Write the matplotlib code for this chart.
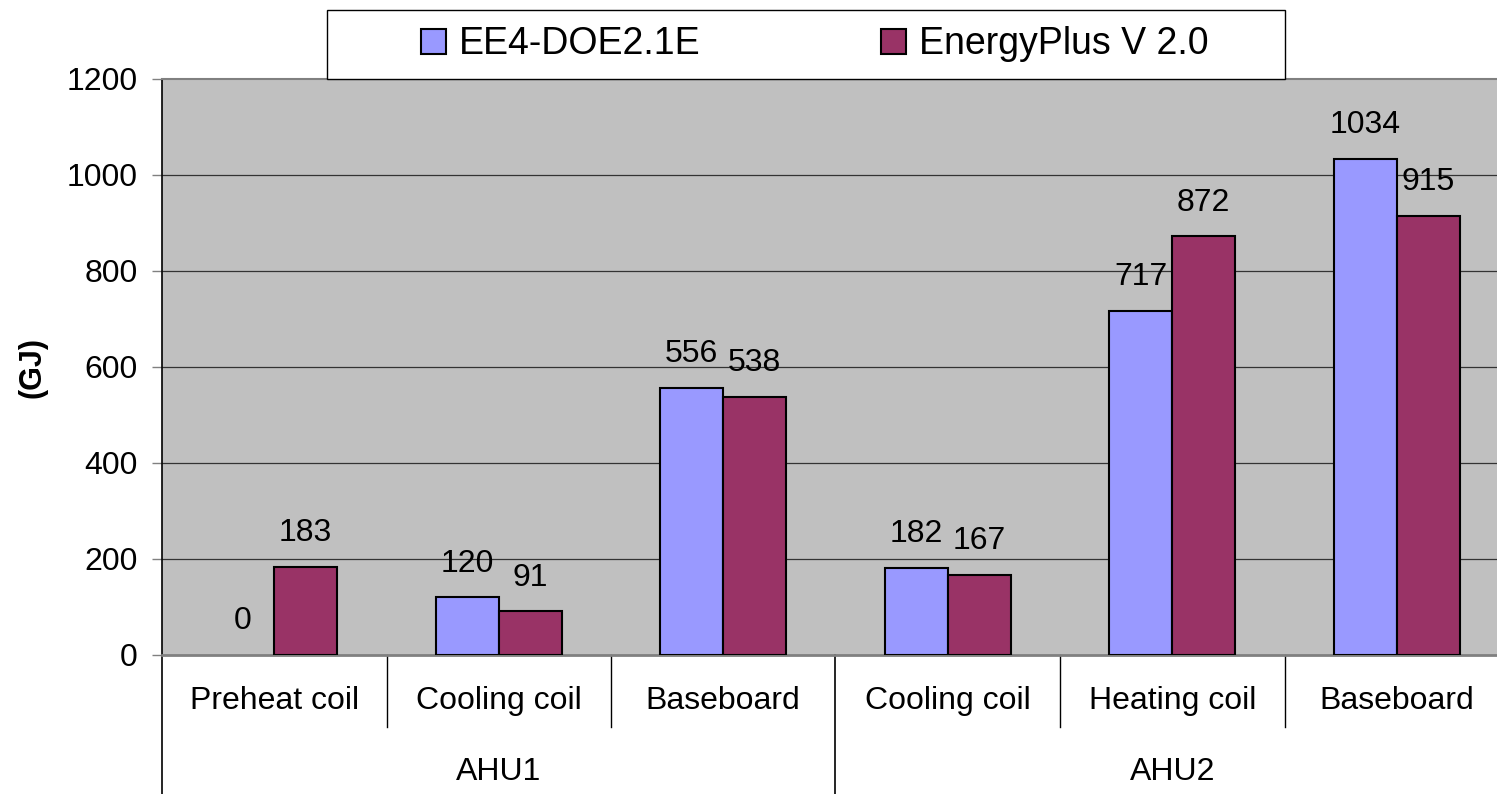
import matplotlib.pyplot as plt
from matplotlib.patches import Rectangle
import numpy as np

plt.rcParams['font.family'] = ['Liberation Sans', 'DejaVu Sans']

# Данные
categories = ['Preheat coil', 'Cooling coil', 'Baseboard',
              'Cooling coil', 'Heating coil', 'Baseboard']
groups = ['AHU1', 'AHU2']
series_names = ['EE4-DOE2.1E', 'EnergyPlus V 2.0']
ee4_values = [0, 120, 556, 182, 717, 1034]
eplus_values = [183, 91, 538, 167, 872, 915]
y_ticks = [0, 200, 400, 600, 800, 1000, 1200]

W, H = 1497, 794
fig = plt.figure(figsize=(W / 100, H / 100), dpi=100)
ax = fig.add_axes([162 / W, (H - 655) / H, (W - 162) / W, 576 / H])
ax.set_facecolor('#C0C0C0')

x = np.arange(len(categories))
bw = 0.28
colors = ['#9999FF', '#993366']
for i, vals in enumerate([ee4_values, eplus_values]):
    pos = x + (i - 0.5) * bw
    bars = ax.bar(pos, vals, width=bw, color=colors[i], edgecolor='black',
                  linewidth=1.5, label=series_names[i], zorder=3)
    # нулевые столбцы в оригинале не видны
    for b, v in zip(bars, vals):
        if v == 0:
            b.set_visible(False)
    for p, v in zip(pos, vals):
        ax.annotate(str(v), (p, v), xytext=(0, 18.5), textcoords='offset points',
                    ha='center', va='baseline', fontsize=23, zorder=4)

ax.set_xlim(-0.5, -0.5 + 1335 / 224.5)
ax.set_ylim(0, 1200)
ax.set_yticks(y_ticks)
ax.tick_params(axis='y', direction='out', length=7, width=1, color='#808080',
               pad=10.5, labelsize=23)
ax.set_xticks([])
for v in y_ticks[1:-1]:
    ax.axhline(v, color='#333333', linewidth=0.9, zorder=1)

ax.spines['right'].set_visible(False)
ax.spines['top'].set_color('#808080')
ax.spines['top'].set_linewidth(1.5)
ax.spines['bottom'].set_color('#808080')
ax.spines['bottom'].set_linewidth(2)
ax.spines['left'].set_color('black')
ax.spines['left'].set_linewidth(1.2)

ax.set_ylabel('(GJ)', fontsize=22, fontweight='bold')
ax.yaxis.set_label_coords(-0.0854, 0.5)

# Подписи категорий и групп
trans = ax.get_xaxis_transform()
for xi, name in zip(x, categories):
    ax.text(xi, -0.08, name, transform=trans, ha='center', va='center', fontsize=23)
for gi, g in enumerate(groups):
    ax.text(gi * 3 + 1, -0.203, g, transform=trans, ha='center', va='center', fontsize=23)

for d in [0.5, 1.5, 3.5, 4.5]:
    ax.plot([d, d], [0, -0.125], transform=trans, color='black', linewidth=1, clip_on=False)
for d in [-0.5, 2.5]:
    ax.plot([d, d], [0, -0.25], transform=trans, color='black', linewidth=1.2, clip_on=False)

# Легенда
fig.patches.append(Rectangle((327 / W, (H - 79) / H), (1285 - 327) / W, 69 / H,
                             transform=fig.transFigure, facecolor='white',
                             edgecolor='black', linewidth=1))
handles, labels = ax.get_legend_handles_labels()
leg = fig.legend(handles, labels, loc='center left',
                 bbox_to_anchor=(421 / W, (H - 44.5) / H),
                 ncol=2, frameon=False, fontsize=27, handlelength=0.67,
                 handleheight=0.67, handletextpad=0.35, columnspacing=4.8,
                 borderpad=0, borderaxespad=0)
for h in leg.legend_handles:
    h.set_visible(True)
    h.set_edgecolor('black')

plt.savefig('out.png', dpi=100)
